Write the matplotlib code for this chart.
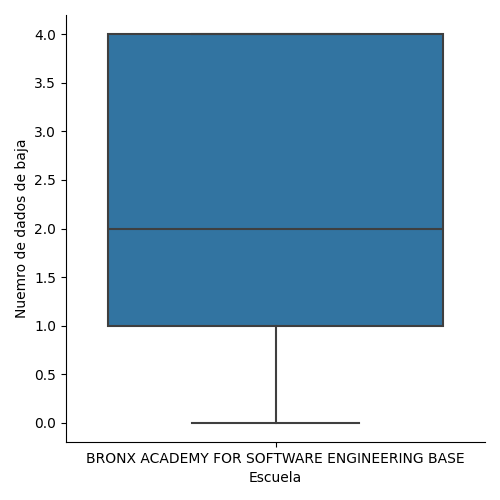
import matplotlib
matplotlib.use("Agg")
import matplotlib.pyplot as plt

school = "BRONX ACADEMY FOR SOFTWARE ENGINEERING BASE"
bajas = [0, 1, 2, 4, 4]

fig = plt.figure(figsize=(5, 5), dpi=100)
ax = fig.add_axes([0.132, 0.116, 0.838, 0.854])
line = dict(color="#3f3f3f", linewidth=1.5)
ax.boxplot([bajas], positions=[0], widths=0.8, patch_artist=True,
           boxprops=dict(facecolor="#3274a1", edgecolor="#3f3f3f", linewidth=1.5),
           medianprops=line, whiskerprops=line, capprops=line,
           flierprops=dict(marker="d", markerfacecolor="#3f3f3f"))
ax.set_xlim(-0.5, 0.5)
ax.set_ylim(-0.2, 4.2)
ax.set_xticks([0])
ax.set_xticklabels([school])
ax.set_xlabel("Escuela")
ax.set_ylabel("Nuemro de dados de baja")
ax.spines["top"].set_visible(False)
ax.spines["right"].set_visible(False)
fig.savefig("out.png")
